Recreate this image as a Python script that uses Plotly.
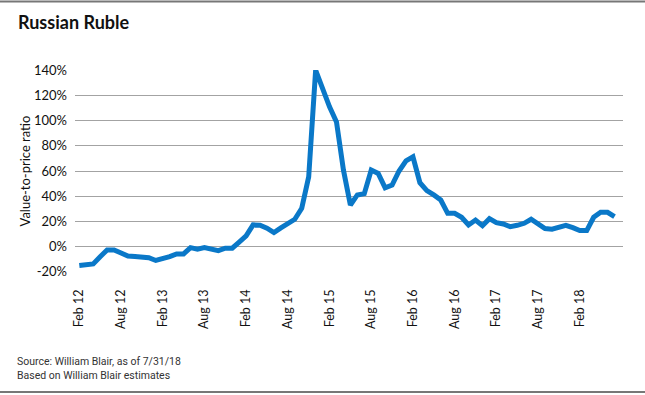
import plotly.graph_objects as go

# Monthly value-to-price ratio (%), Feb 2012 onward
months = list(range(78))
values = [-15, -14.7, -13.7, -8, -2.6, -2.6, -5, -7.4, -7.9, -8.2,
          -8.8, -11, -10, -8, -5.8, -5.8, -0.8, -2, -0.8, -2,
          -3.2, -1.3, -1.3, 3.5, 8.5, 17.2, 16.9, 14.6, 11.1, 14.8,
          18.5, 21.7, 30.4, 55.4, 140, 124, 110.9, 99, 60.8, 33,
          41, 42, 60.8, 58.1, 46.7, 48.9, 60, 68.1, 71.3, 50.7,
          44.4, 41, 37, 26.4, 26.4, 23.3, 17.2, 21.1, 16.6, 22.2,
          19, 18, 15.8, 16.9, 18.5, 21.7, 18, 14.3, 13.8, 15.8,
          16.9, 15, 12.7, 12.7, 23.3, 27.2, 27.2, 23.8]

x_tick_pos = [0, 6, 12, 18, 24, 30, 36, 42, 48, 54, 60, 66, 72]
x_tick_labels = ["Feb 12", "Aug 12", "Feb 13", "Aug 13", "Feb 14", "Aug 14", "Feb 15",
                 "Aug 15", "Feb 16", "Aug 16", "Feb 17", "Aug 17", "Feb 18"]
y_tick_vals = [-20, 0, 20, 40, 60, 80, 100, 120, 140]
y_tick_labels = ["-20%", "0%", "20%", "40%", "60%", "80%", "100%", "120%", "140%"]

FONT = "Lato, 'Open Sans', sans-serif"

fig = go.Figure()
fig.add_trace(go.Scatter(
    x=months, y=values, mode="lines",
    line=dict(color="#0a78c8", width=5),
    hoverinfo="skip", showlegend=False,
))

W, H = 645, 395
L, R, T, B = 75, 22, 70, 123
pw, ph = W - L - R, H - T - B

fig.update_layout(
    width=W, height=H,
    margin=dict(l=L, r=R, t=T, b=B),
    paper_bgcolor="white", plot_bgcolor="white",
    font=dict(family=FONT, size=13, color="#111"),
    xaxis=dict(
        range=[-0.62, 78.22], tickmode="array",
        tickvals=x_tick_pos, ticktext=x_tick_labels,
        tickangle=-90, showgrid=False, zeroline=False, showline=False,
        ticks="", ticklabelstandoff=14,
        tickfont=dict(family=FONT, size=12.5, color="#111"),
    ),
    yaxis=dict(
        range=[-20.15, 140.15], tickmode="array",
        tickvals=y_tick_vals, ticktext=y_tick_labels,
        showgrid=True, gridcolor="#a3a3a3", gridwidth=1,
        zeroline=False, showline=False, ticks="", ticklabelstandoff=7,
        tickfont=dict(family=FONT, size=13, color="#111"),
        title=dict(text="Value-to-price ratio", standoff=0,
                   font=dict(family=FONT, size=13, color="#111")),
    ),
)

def px_x(p):
    return (p - L) / pw

def px_y(p):
    return (H - B - p) / ph

# top and bottom frame lines
for py in (1.5, 392):
    fig.add_shape(type="line", xref="paper", yref="paper",
                  x0=px_x(0), x1=px_x(W), y0=px_y(py), y1=px_y(py),
                  line=dict(color="#777", width=2))

fig.add_annotation(text="<b>Russian Ruble</b>", xref="paper", yref="paper",
                   x=px_x(16), y=px_y(22), xanchor="left", yanchor="middle",
                   showarrow=False,
                   font=dict(family=FONT, size=18, color="#111"))
fig.add_annotation(text="Source: William Blair, as of 7/31/18<br>Based on William Blair estimates",
                   xref="paper", yref="paper", x=px_x(15), y=px_y(368),
                   xanchor="left", yanchor="middle", align="left", showarrow=False,
                   font=dict(family="Roboto, sans-serif", size=10.5, color="#333"))

fig.write_html("out.html", config={"displayModeBar": False},
               post_script="document.body.style.margin='0';")
